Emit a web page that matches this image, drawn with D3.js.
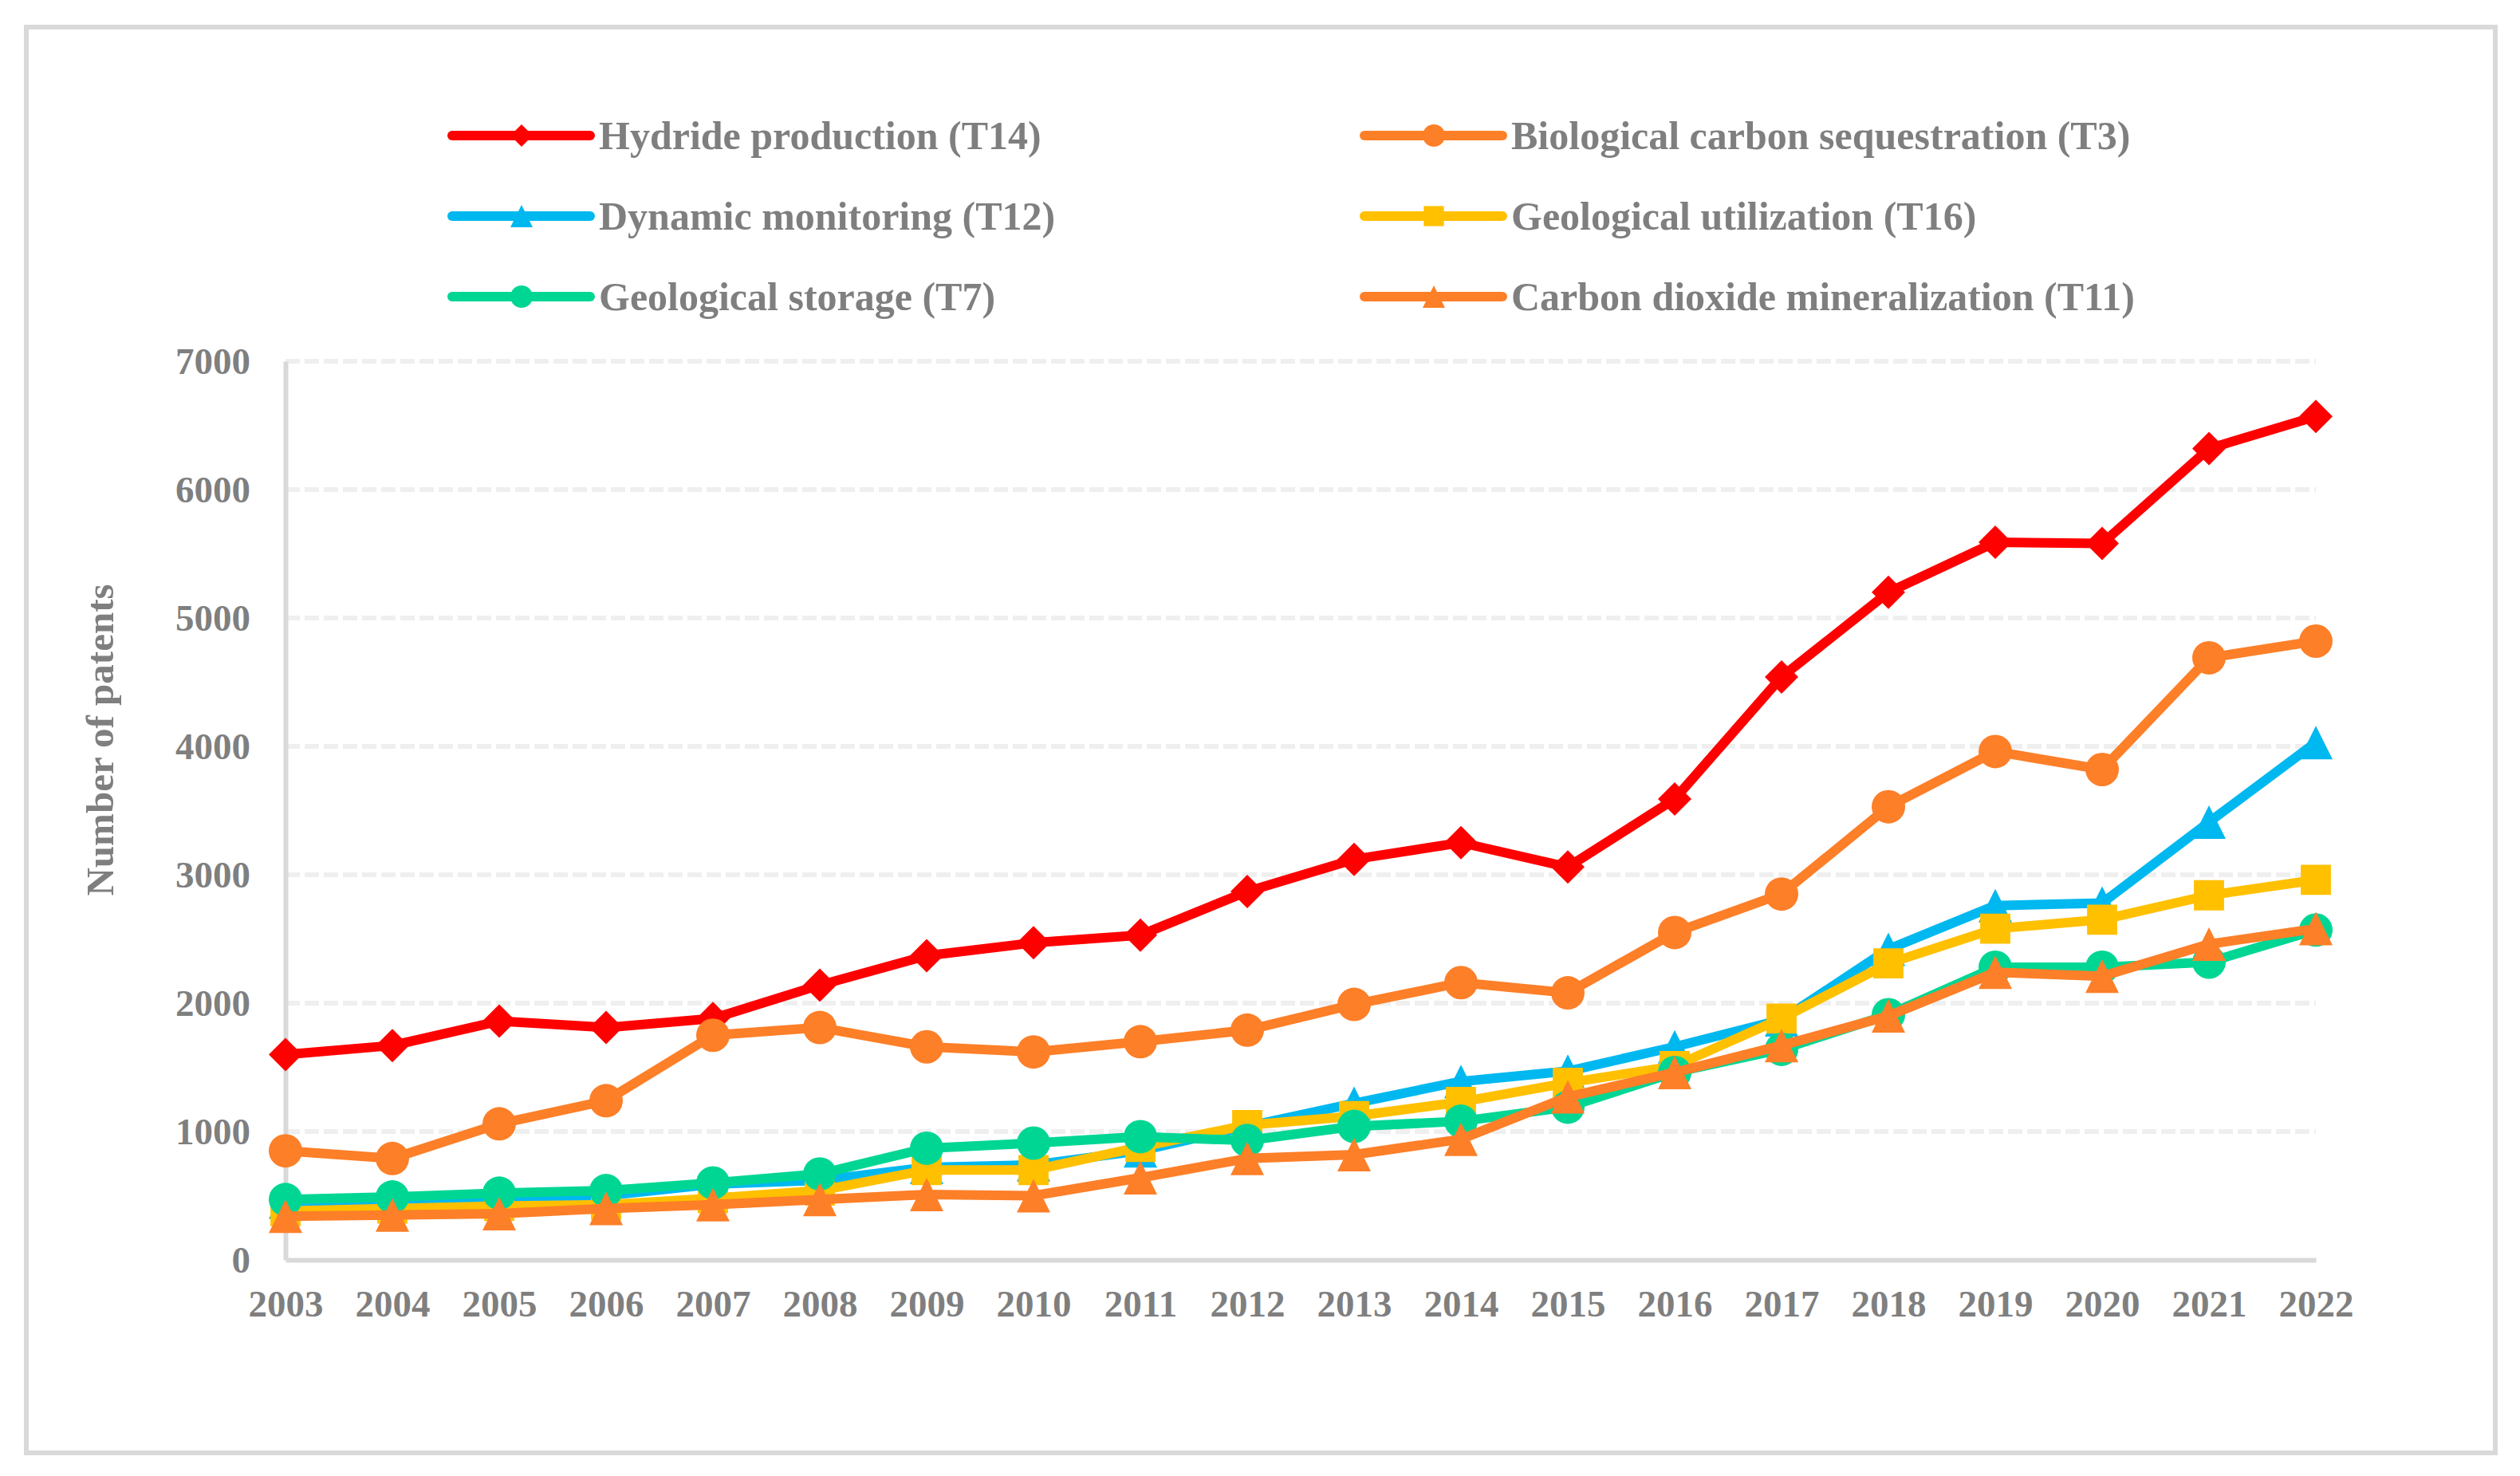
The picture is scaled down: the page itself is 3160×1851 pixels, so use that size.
<!DOCTYPE html>
<html>
<head>
<meta charset="utf-8">
<script src="https://cdn.jsdelivr.net/npm/d3@7"></script>
<style>
  html, body { margin: 0; padding: 0; background: #fff; }
</style>
</head>
<body>
<div id="chart"></div>
<script>
'use strict';

// ---- data ----
var years = ["2003", "2004", "2005", "2006", "2007", "2008", "2009", "2010", "2011", "2012",
	"2013", "2014", "2015", "2016", "2017", "2018", "2019", "2020", "2021", "2022"];

var hydrideProduction = [1600, 1670, 1860, 1810, 1880, 2140, 2370, 2470, 2530, 2870,
	3120, 3250, 3060, 3590, 4540, 5200, 5590, 5580, 6320, 6570];
var biologicalSequestration = [850, 790, 1060, 1240, 1750, 1810, 1660, 1620, 1700, 1790,
	1990, 2160, 2080, 2550, 2850, 3530, 3960, 3820, 4690, 4820];
var dynamicMonitoring = [450, 460, 480, 500, 590, 620, 720, 740, 850, 1040,
	1220, 1390, 1470, 1660, 1870, 2420, 2760, 2780, 3410, 4030];
var geologicalUtilization = [380, 400, 420, 430, 480, 540, 700, 700, 880, 1050,
	1120, 1230, 1380, 1510, 1880, 2310, 2580, 2650, 2840, 2960];
var geologicalStorage = [470, 490, 520, 540, 600, 670, 870, 910, 960, 930,
	1040, 1080, 1190, 1460, 1640, 1910, 2280, 2280, 2320, 2570];
var co2Mineralization = [340, 350, 360, 400, 430, 470, 510, 500, 640, 790,
	820, 940, 1270, 1460, 1670, 1900, 2240, 2210, 2460, 2580];

var seriesNames = ["Hydride production (T14)", "Biological carbon sequestration (T3)",
	"Dynamic monitoring (T12)", "Geological utilization (T16)",
	"Geological storage (T7)", "Carbon dioxide mineralization (T11)"];
var seriesValues = [hydrideProduction, biologicalSequestration, dynamicMonitoring,
	geologicalUtilization, geologicalStorage, co2Mineralization];
var seriesColors = ["#FF0000", "#FD7F28", "#00B8F0", "#FFC000", "#00D694", "#FD7F28"];
var seriesMarkers = ["diamond", "circle", "triangle", "square", "circle", "triangle"];

var yTicks = [0, 1000, 2000, 3000, 4000, 5000, 6000, 7000];

// ---- layout ----
var width = 3160, height = 1851;
var plotLeft = 358, plotRight = 2904, plotTop = 453, plotBottom = 1580;
var textColor = "#7F7F7F";
var fontFamily = "'Liberation Serif', 'Times New Roman', serif";

var svg = d3.select("#chart").append("svg")
	.attr("width", width)
	.attr("height", height)
	.attr("font-family", fontFamily);

svg.append("rect")
	.attr("width", width).attr("height", height)
	.attr("fill", "#fff");

// outer frame
svg.append("rect")
	.attr("x", 33).attr("y", 34)
	.attr("width", 3096).attr("height", 1788)
	.attr("fill", "none")
	.attr("stroke", "#D9D9D9")
	.attr("stroke-width", 6);

var x = d3.scalePoint().domain(years).range([plotLeft, plotRight]).padding(0);
var y = d3.scaleLinear().domain([0, 7000]).range([plotBottom, plotTop]);

// gridlines
svg.append("g").selectAll("line")
	.data(yTicks.filter(function(d) { return d > 0; }))
	.enter().append("line")
	.attr("x1", plotLeft).attr("x2", plotRight)
	.attr("y1", function(d) { return y(d); })
	.attr("y2", function(d) { return y(d); })
	.attr("stroke", "#EFEFEF")
	.attr("stroke-width", 6)
	.attr("stroke-dasharray", "18,6");

// axes
var yAxis = svg.append("g")
	.attr("transform", "translate(" + plotLeft + ",0)")
	.call(d3.axisLeft(y).tickValues(yTicks).tickFormat(d3.format("d"))
		.tickSize(0).tickPadding(44));
var xAxis = svg.append("g")
	.attr("transform", "translate(0," + plotBottom + ")")
	.call(d3.axisBottom(x).tickSize(0).tickPadding(38));

[yAxis, xAxis].forEach(function(ax) {
	ax.select(".domain").attr("stroke", "#D9D9D9").attr("stroke-width", 6);
	ax.selectAll("text")
		.attr("fill", textColor)
		.attr("font-family", fontFamily)
		.attr("font-weight", "bold")
		.attr("font-size", "47px");
});
yAxis.selectAll("text").attr("dy", "0.34em");
xAxis.selectAll("text").attr("dy", "0.71em");

svg.append("text")
	.attr("transform", "translate(142,928) rotate(-90)")
	.attr("text-anchor", "middle")
	.attr("fill", textColor)
	.attr("font-weight", "bold")
	.attr("font-size", "49px")
	.text("Number of patents");

// markers
function markerPath(type, s) {
	var h = s / 2;
	switch (type) {
	case "diamond":
		return "M0," + (-h) + "L" + h + ",0L0," + h + "L" + (-h) + ",0Z";
	case "square":
		var q = h * 0.9;
		return "M" + (-q) + "," + (-q) + "H" + q + "V" + q + "H" + (-q) + "Z";
	case "triangle":
		return "M0," + (-h) + "L" + h + "," + h + "L" + (-h) + "," + h + "Z";
	default:
		return d3.symbol().type(d3.symbolCircle).size(Math.PI * h * h)();
	}
}

var line = d3.line()
	.x(function(d, i) { return x(years[i]); })
	.y(function(d) { return y(d); });

seriesValues.forEach(function(values, si) {
	var g = svg.append("g");
	g.append("path")
		.attr("d", line(values))
		.attr("fill", "none")
		.attr("stroke", seriesColors[si])
		.attr("stroke-width", 12)
		.attr("stroke-linejoin", "round");
	g.selectAll("path.mark")
		.data(values)
		.enter().append("path")
		.classed("mark", true)
		.attr("transform", function(d, i) {
			return "translate(" + x(years[i]) + "," + y(d) + ")";
		})
		.attr("d", markerPath(seriesMarkers[si], 42))
		.attr("fill", seriesColors[si]);
});

// legend, two columns by three rows
var legendCols = [567, 1711];
var legendRows = [170, 271, 372];
var legend = svg.append("g");
seriesNames.forEach(function(name, si) {
	var lx = legendCols[si % 2];
	var ly = legendRows[Math.floor(si / 2)];
	var item = legend.append("g").attr("transform", "translate(" + lx + "," + ly + ")");
	item.append("line")
		.attr("x1", 0).attr("x2", 173)
		.attr("stroke", seriesColors[si])
		.attr("stroke-width", 12)
		.attr("stroke-linecap", "round");
	item.append("path")
		.attr("transform", "translate(87,0)")
		.attr("d", markerPath(seriesMarkers[si], 28))
		.attr("fill", seriesColors[si]);
	item.append("text")
		.attr("x", 184)
		.attr("dy", "0.34em")
		.attr("fill", textColor)
		.attr("font-weight", "bold")
		.attr("font-size", "50px")
		.text(name);
});
</script>
</body>
</html>
